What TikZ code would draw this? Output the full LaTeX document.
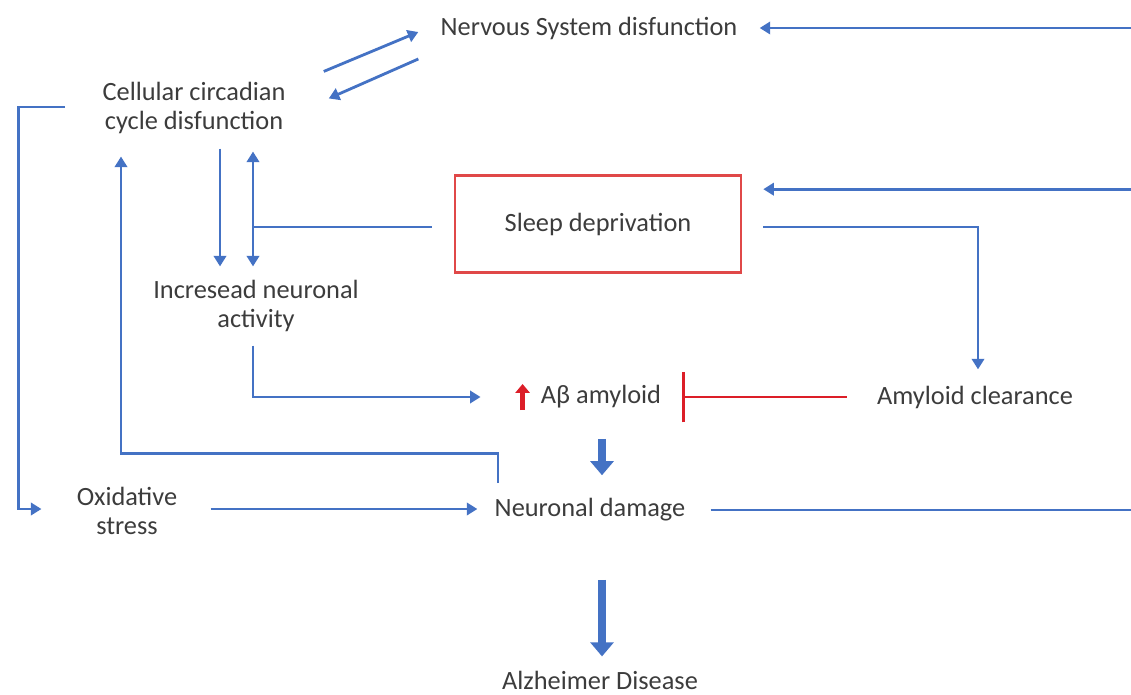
\documentclass[tikz,border=0pt]{standalone}
\usepackage{fontspec}
\setmainfont{Carlito}
\usetikzlibrary{arrows.meta,calc}

\definecolor{lineblue}{HTML}{4472C4}
\definecolor{boxred}{HTML}{E04848}
\definecolor{barred}{HTML}{DC1E28}
\definecolor{txtgray}{HTML}{3C3C3C}

\begin{document}
\begin{tikzpicture}[x=0.02cm,y=-0.02cm,
    >={Triangle[length=6pt,width=7pt]},
    lbl/.style={font=\fontsize{15}{17}\selectfont,text=txtgray,align=center,inner sep=0pt},
    lk/.style={draw=lineblue,line width=1.6pt},
    fat/.style={draw=lineblue,line width=5pt,-{Triangle[length=8pt,width=13pt]}},
    inhibit/.style={draw=barred,line width=1.7pt,-{Bar[width=29pt,line width=1.7pt]}}]
    \useasboundingbox (0,0) rectangle (1131,695);

    % labels
    \node[lbl] (nsd) at (589,28) {Nervous System disfunction};
    \node[lbl] (ccd) at (194,108) {Cellular circadian\\cycle disfunction};
    \node[lbl,draw=boxred,line width=1.5pt,minimum width=5.72cm,minimum height=1.94cm] (sleep) at (598,224) {Sleep deprivation};
    \node[lbl] (ina) at (256,306) {Incresead neuronal\\activity};
    \node[lbl] (abeta) at (601,397) {Aβ amyloid};
    \node[lbl] (aclr) at (975,397) {Amyloid clearance};
    \node[lbl] (oxs) at (127,511) {Oxidative\\stress};
    \node[lbl] (ndmg) at (590,510) {Neuronal damage};
    \node[lbl] (alz) at (600,680) {Alzheimer Disease};
    \coordinate (redge) at (1134,0);
    \coordinate (sdin) at ($(sleep.north east)+(21,15)$);

    % circadian <-> nervous system
    \draw[lk,->] ($(ccd.north east)+(38,-10)$) -- ($(nsd.west)+(-22,4)$);
    \draw[lk,->] ($(nsd.west)+(-22,31)$) -- ($(ccd.north east)+(43,17)$);

    % feedback from the right
    \draw[lk] ($(ndmg.east)+(25,0)$) -- (ndmg.east -| redge) -- (nsd.east -| redge);
    \draw[lk,->] (nsd.east -| redge) -- ($(nsd.east)+(22,0)$);
    \draw[lk,->] (sdin -| redge) -- (sdin);

    % sleep deprivation
    \draw[lk,->] ($(sleep.east)+(21,3)$) -| ($(aclr.north)+(3,-16)$);
    \draw[lk] ($(sleep.west)+(-22,3)$) -- ($(sleep.west)+(-202,3)$);
    \draw[lk,<->] ($(ccd.south)+(59,17)$) -- ($(ina.north)+(-3,-13)$);
    \draw[lk,->] ($(ccd.south)+(26,14)$) -- ($(ina.north)+(-36,-13)$);

    % amyloid
    \draw[lk,->] ($(ina.south)+(-3,13)$) |- ($(abeta.west)+(-60,0)$);
    \draw[draw=barred,line width=2.6pt,-{Triangle[length=5pt,width=8pt]}] ($(abeta.west)+(-18,13)$) -- ++(0,-26);
    \draw[inhibit] ($(aclr.west)+(-30,0)$) -- ($(abeta.east)+(21,0)$);
    \draw[fat] ($(abeta.south)+(1,30)$) -- ($(ndmg.north)+(12,-23)$);

    % neuronal damage
    \draw[lk,->] ($(ndmg.north)+(-92,-15)$) -- ++(0,-30) -| ($(ccd.south)+(-73,22)$);
    \draw[lk,->] ($(oxs.east)+(33,-2)$) -- ($(ndmg.west)+(-17,-1)$);
    \draw[lk,->] ($(ccd.west)+(-37,-1)$) -- ++(-47,0) |- ($(oxs.west)+(-35,-2)$);
    \draw[fat] ($(ndmg.south)+(12,58)$) -- ($(alz.north)+(2,-14)$);
\end{tikzpicture}
\end{document}
